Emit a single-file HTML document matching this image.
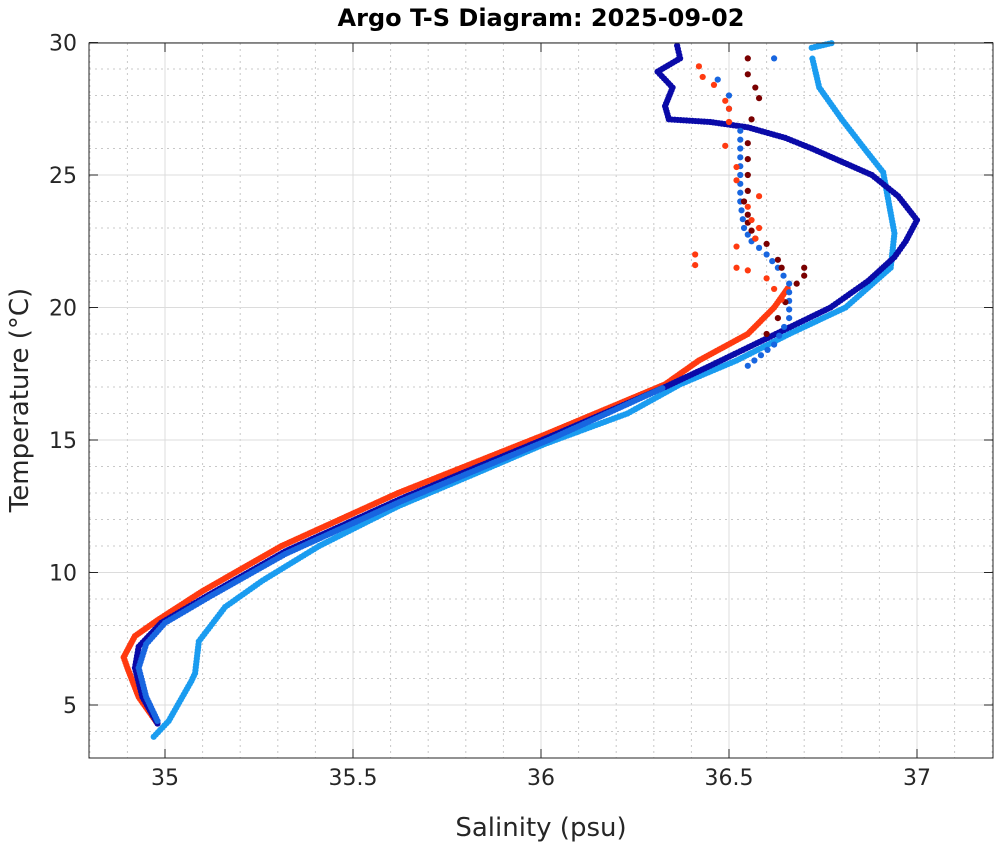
<!DOCTYPE html><html><head><meta charset="utf-8"><style>body{margin:0;background:#fff}svg{display:block}</style></head><body>
<svg id="s" width="997" height="846" xmlns="http://www.w3.org/2000/svg" font-family="DejaVu Sans, Liberation Sans, sans-serif">
<rect width="997" height="846" fill="#fff"/>
<g id="grid"></g><g id="data"></g>
<rect x="89" y="43" width="904" height="715" fill="none" stroke="#262626" stroke-width="1"/>
<g id="ticks" font-size="22" fill="#262626"></g>
<text x="541" y="26" text-anchor="middle" font-size="24" font-weight="bold" fill="#000">Argo T-S Diagram: 2025-09-02</text>
<text x="541" y="836" text-anchor="middle" font-size="26" fill="#262626">Salinity (psu)</text>
<text transform="translate(28,400) rotate(-90)" text-anchor="middle" font-size="26" fill="#262626">Temperature (°C)</text>
</svg>
<script>
const NS="http://www.w3.org/2000/svg";
const X=s=>165+(s-35)*376, Y=t=>705-(t-5)*26.5;
function el(p,n,a,txt){const e=document.createElementNS(NS,n);for(const k in a)e.setAttribute(k,a[k]);if(txt!==undefined)e.textContent=txt;document.getElementById(p).appendChild(e);return e;}
for(let i=0;i<=24;i++){const s=34.8+i*0.1,x=X(s);const maj=Math.abs(s*2-Math.round(s*2))<1e-6;
 el('grid','line',{x1:x,x2:x,y1:43,y2:758,stroke:maj?'#dcdcdc':'#c8c8c8','stroke-dasharray':maj?'':'2,4'});}
for(let t=3;t<=30;t++){const y=Y(t),maj=t%5==0;
 el('grid','line',{x1:89,x2:993,y1:y,y2:y,stroke:maj?'#dcdcdc':'#c8c8c8','stroke-dasharray':maj?'':'2,4'});}
[35,35.5,36,36.5,37].forEach(s=>{const x=X(s);el('ticks','line',{x1:x,x2:x,y1:758,y2:749,stroke:'#262626'});el('ticks','line',{x1:x,x2:x,y1:43,y2:52,stroke:'#262626'});el('ticks','text',{x:x,y:785,'text-anchor':'middle'},String(s));});
[5,10,15,20,25,30].forEach(t=>{const y=Y(t);el('ticks','line',{x1:89,x2:98,y1:y,y2:y,stroke:'#262626'});el('ticks','line',{x1:993,x2:984,y1:y,y2:y,stroke:'#262626'});el('ticks','text',{x:77,y:y+8,'text-anchor':'end'},String(t));});
function curve(pts,col,step){for(let i=0;i<pts.length-1;i++){const[a,b]=[pts[i],pts[i+1]];const x1=X(a[0]),y1=Y(a[1]),x2=X(b[0]),y2=Y(b[1]);const d=Math.hypot(x2-x1,y2-y1),n=Math.max(1,Math.round(d/step));for(let k=0;k<n;k++){const f=k/n;el('data','circle',{cx:x1+(x2-x1)*f,cy:y1+(y2-y1)*f,r:3.1,fill:col});}}}
function pts(arr,col){arr.forEach(p=>el('data','circle',{cx:X(p[0]),cy:Y(p[1]),r:3.1,fill:col}));}
curve([[34.97,3.8],[35.01,4.4],[35.07,5.9],[35.08,6.2],[35.09,7.4],[35.16,8.7],[35.26,9.7],[35.41,11],[35.62,12.5],[35.82,13.7],[36.01,14.85],[36.23,16],[36.37,17.1],[36.52,18],[36.66,19],[36.81,20],[36.93,21.5],[36.94,22.8],[36.91,25.1],[36.86,26],[36.8,27.1],[36.74,28.3],[36.72,29.5]],'#1a9cf0',3);
curve([[36.72,29.8],[36.78,30]],'#1a9cf0',3);
curve([[34.98,4.3],[34.93,5.3],[34.9,6.4],[34.89,6.8],[34.92,7.6],[34.98,8.2],[35.1,9.3],[35.31,11],[35.62,13],[36.01,15.2],[36.33,17.1],[36.42,18],[36.55,19],[36.62,20],[36.66,20.8]],'#ff3a10',2.5);
curve([[34.98,4.3],[34.94,5.3],[34.92,6.4],[34.93,7.2],[34.99,8.1],[35.11,9.1],[35.32,10.8],[35.63,12.8],[36.02,15.1],[36.33,17],[36.45,17.8],[36.61,18.9],[36.77,20],[36.87,21],[36.94,21.9],[36.97,22.5],[37,23.3],[36.95,24.2],[36.88,25],[36.8,25.5],[36.72,26],[36.65,26.4],[36.55,26.8],[36.45,27],[36.34,27.1],[36.33,27.6],[36.35,28.3],[36.31,28.9],[36.37,29.4],[36.36,30]],'#0a0aa8',3);
curve([[34.98,4.4],[34.95,5.3],[34.93,6.4],[34.95,7.3],[35.0,8.1],[35.12,9.1],[35.32,10.7],[35.63,12.7],[36.02,15],[36.33,17]],'#1866e0',3);
curve([[36.55,17.8],[36.62,18.6],[36.66,19.6],[36.66,20.9],[36.63,21.5],[36.6,22],[36.56,22.5],[36.54,23],[36.53,24],[36.53,26],[36.53,27]],'#1866e0',9);
pts([[36.5,28],[36.47,28.6],[36.62,29.4],[36.5,27.5]],'#1866e0');
pts([[36.55,29.4],[36.55,28.8],[36.57,28.3],[36.58,27.9],[36.56,27.1],[36.55,26.2],[36.55,25.6],[36.55,25],[36.55,24.4],[36.54,24],[36.55,23.5],[36.55,23.2],[36.56,22.9],[36.57,22.6],[36.6,22.4],[36.63,21.8],[36.64,21.5],[36.7,21.5],[36.7,21.2],[36.68,20.9],[36.65,20.2],[36.63,19.6],[36.6,19]],'#7a0000');
pts([[36.42,29.1],[36.43,28.7],[36.46,28.4],[36.49,27.8],[36.5,27.5],[36.5,27],[36.49,26.1],[36.52,25.3],[36.52,24.8],[36.58,24.2],[36.55,23.8],[36.56,23.3],[36.58,23],[36.57,22.6],[36.52,22.3],[36.41,22],[36.41,21.6],[36.52,21.5],[36.55,21.4],[36.6,21.1],[36.62,20.7],[36.64,20.3]],'#ff3a10');
</script></body></html>
